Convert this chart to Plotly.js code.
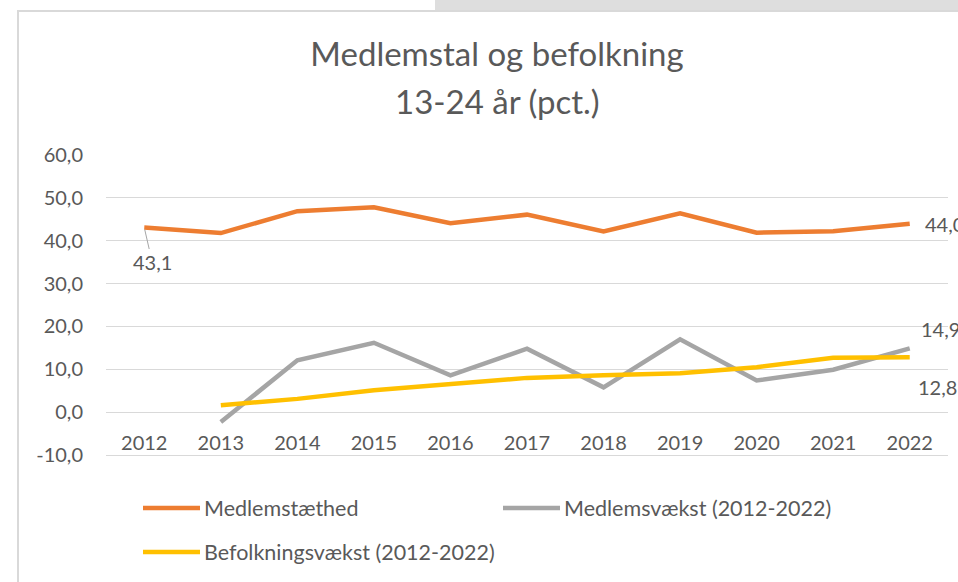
<!DOCTYPE html>
<html>
<head>
<meta charset="utf-8">
<script src="https://cdn.plot.ly/plotly-3.0.1.min.js"></script>
<style>html,body{margin:0;padding:0;background:#fff;}#chart{width:958px;height:582px;}</style>
</head>
<body>
<div id="chart"></div>
<script>
const years = ['2012','2013','2014','2015','2016','2017','2018','2019','2020','2021','2022'];
const medlemstaethed = [43.1, 41.8, 46.9, 47.8, 44.1, 46.1, 42.2, 46.4, 41.9, 42.2, 44.0];
const medlemsvaekst = [null, -2.3, 12.1, 16.2, 8.6, 14.8, 5.8, 17.0, 7.4, 9.9, 14.9];
const befolkningsvaekst = [null, 1.6, 3.1, 5.1, 6.6, 8.0, 8.6, 9.1, 10.5, 12.7, 12.8];
const seriesNames = ['Medlemstæthed', 'Medlemsvækst (2012-2022)', 'Befolkningsvækst (2012-2022)'];
const colors = ['#ED7D31', '#A5A5A5', '#FFC000'];
const yTicks = [-10, 0, 10, 20, 30, 40, 50, 60];

const W = 958, H = 582;
const L = 106, R = 10, T = 155, B = 127;
const pw = W - L - R, ph = H - T - B;
const px = x => (x - L) / pw;
const py = y => (H - B - y) / ph;
const fmt = v => v.toFixed(1).replace('.', ',');
const txt = '#595959';
const FONT = 'Lato, "Open Sans", sans-serif';

const traces = [medlemstaethed, medlemsvaekst, befolkningsvaekst].map((vals, i) => ({
  type: 'scatter', mode: 'lines', x: years, y: vals, name: seriesNames[i],
  line: {color: colors[i], width: 4.5}, connectgaps: false, hoverinfo: 'skip'
}));

const first = 0, last = years.length - 1;
const lblFont = {size: 20, color: txt, family: FONT};
const annotations = [
  {xref: 'x', yref: 'y', x: first, y: medlemstaethed[first], text: fmt(medlemstaethed[first]), showarrow: true, arrowhead: 0,
   arrowwidth: 1, arrowcolor: '#A6A6A6', ax: 8, ay: 35, standoff: 2, font: lblFont},
  {xref: 'x', yref: 'y', x: last, y: medlemstaethed[last], text: fmt(medlemstaethed[last]), showarrow: false,
   xanchor: 'left', yanchor: 'middle', xshift: 13, yshift: 0, font: lblFont},
  {xref: 'x', yref: 'y', x: last, y: medlemsvaekst[last], text: fmt(medlemsvaekst[last]), showarrow: false,
   xanchor: 'left', yanchor: 'middle', xshift: 9, yshift: 19, font: lblFont},
  {xref: 'x', yref: 'y', x: last, y: befolkningsvaekst[last], text: fmt(befolkningsvaekst[last]), showarrow: false,
   xanchor: 'left', yanchor: 'middle', xshift: 6, yshift: -30, font: lblFont}
];

// custom legend
const legendPos = [[143, 508], [503, 508], [143, 552]];
const shapes = [
  {type: 'rect', xref: 'paper', yref: 'paper', x0: px(435), x1: px(960), y0: py(-2), y1: py(11),
   fillcolor: '#DEDEDE', line: {width: 0}, layer: 'below'},
  {type: 'rect', xref: 'paper', yref: 'paper', x0: px(18), x1: px(1000), y0: py(11), y1: py(700),
   fillcolor: '#FFFFFF', line: {color: '#D9D9D9', width: 2}, layer: 'below'}
];
legendPos.forEach((p, i) => {
  shapes.push({type: 'line', xref: 'paper', yref: 'paper', x0: px(p[0]), x1: px(p[0] + 57),
    y0: py(p[1]), y1: py(p[1]), line: {color: colors[i], width: 4.5}});
  annotations.push({xref: 'paper', yref: 'paper', x: px(p[0] + 59), y: py(p[1]), xanchor: 'left',
    yanchor: 'middle', showarrow: false, text: seriesNames[i], font: {size: 21.5, color: txt, family: FONT}});
});

annotations.push({xref: 'paper', yref: 'paper', x: px(497), y: py(101), xanchor: 'center', yanchor: 'middle',
  showarrow: false, text: '13-24 år (pct.)', font: {size: 33, color: txt, family: FONT}});

const layout = {
  width: W, height: H,
  margin: {l: L, r: R, t: T, b: B, pad: 0},
  paper_bgcolor: '#FFFFFF', plot_bgcolor: 'rgba(0,0,0,0)',
  separators: ', ',
  showlegend: false,
  font: {family: FONT, color: txt},
  title: {text: 'Medlemstal og befolkning', font: {size: 33, color: txt, family: FONT},
    x: px(497), xref: 'paper', xanchor: 'center', y: 1 - 54 / H, yref: 'container', yanchor: 'middle'},
  xaxis: {type: 'category', range: [-0.5, 10.5], showgrid: false, zeroline: false,
    showline: true, linecolor: '#D9D9D9', linewidth: 1,
    ticks: '', ticklabelstandoff: -30, tickfont: {size: 20, color: txt, family: FONT}},
  yaxis: {range: [-10, 60.02], tickvals: yTicks, ticktext: yTicks.map(fmt), showgrid: true,
    gridcolor: '#D9D9D9', gridwidth: 1, zeroline: false, showline: false,
    ticks: 'outside', ticklen: 18, tickcolor: 'rgba(0,0,0,0)', tickfont: {size: 20, color: txt, family: FONT}},
  shapes: shapes,
  annotations: annotations
};

Plotly.newPlot('chart', traces, layout, {displayModeBar: false, staticPlot: true});
</script>
</body>
</html>
